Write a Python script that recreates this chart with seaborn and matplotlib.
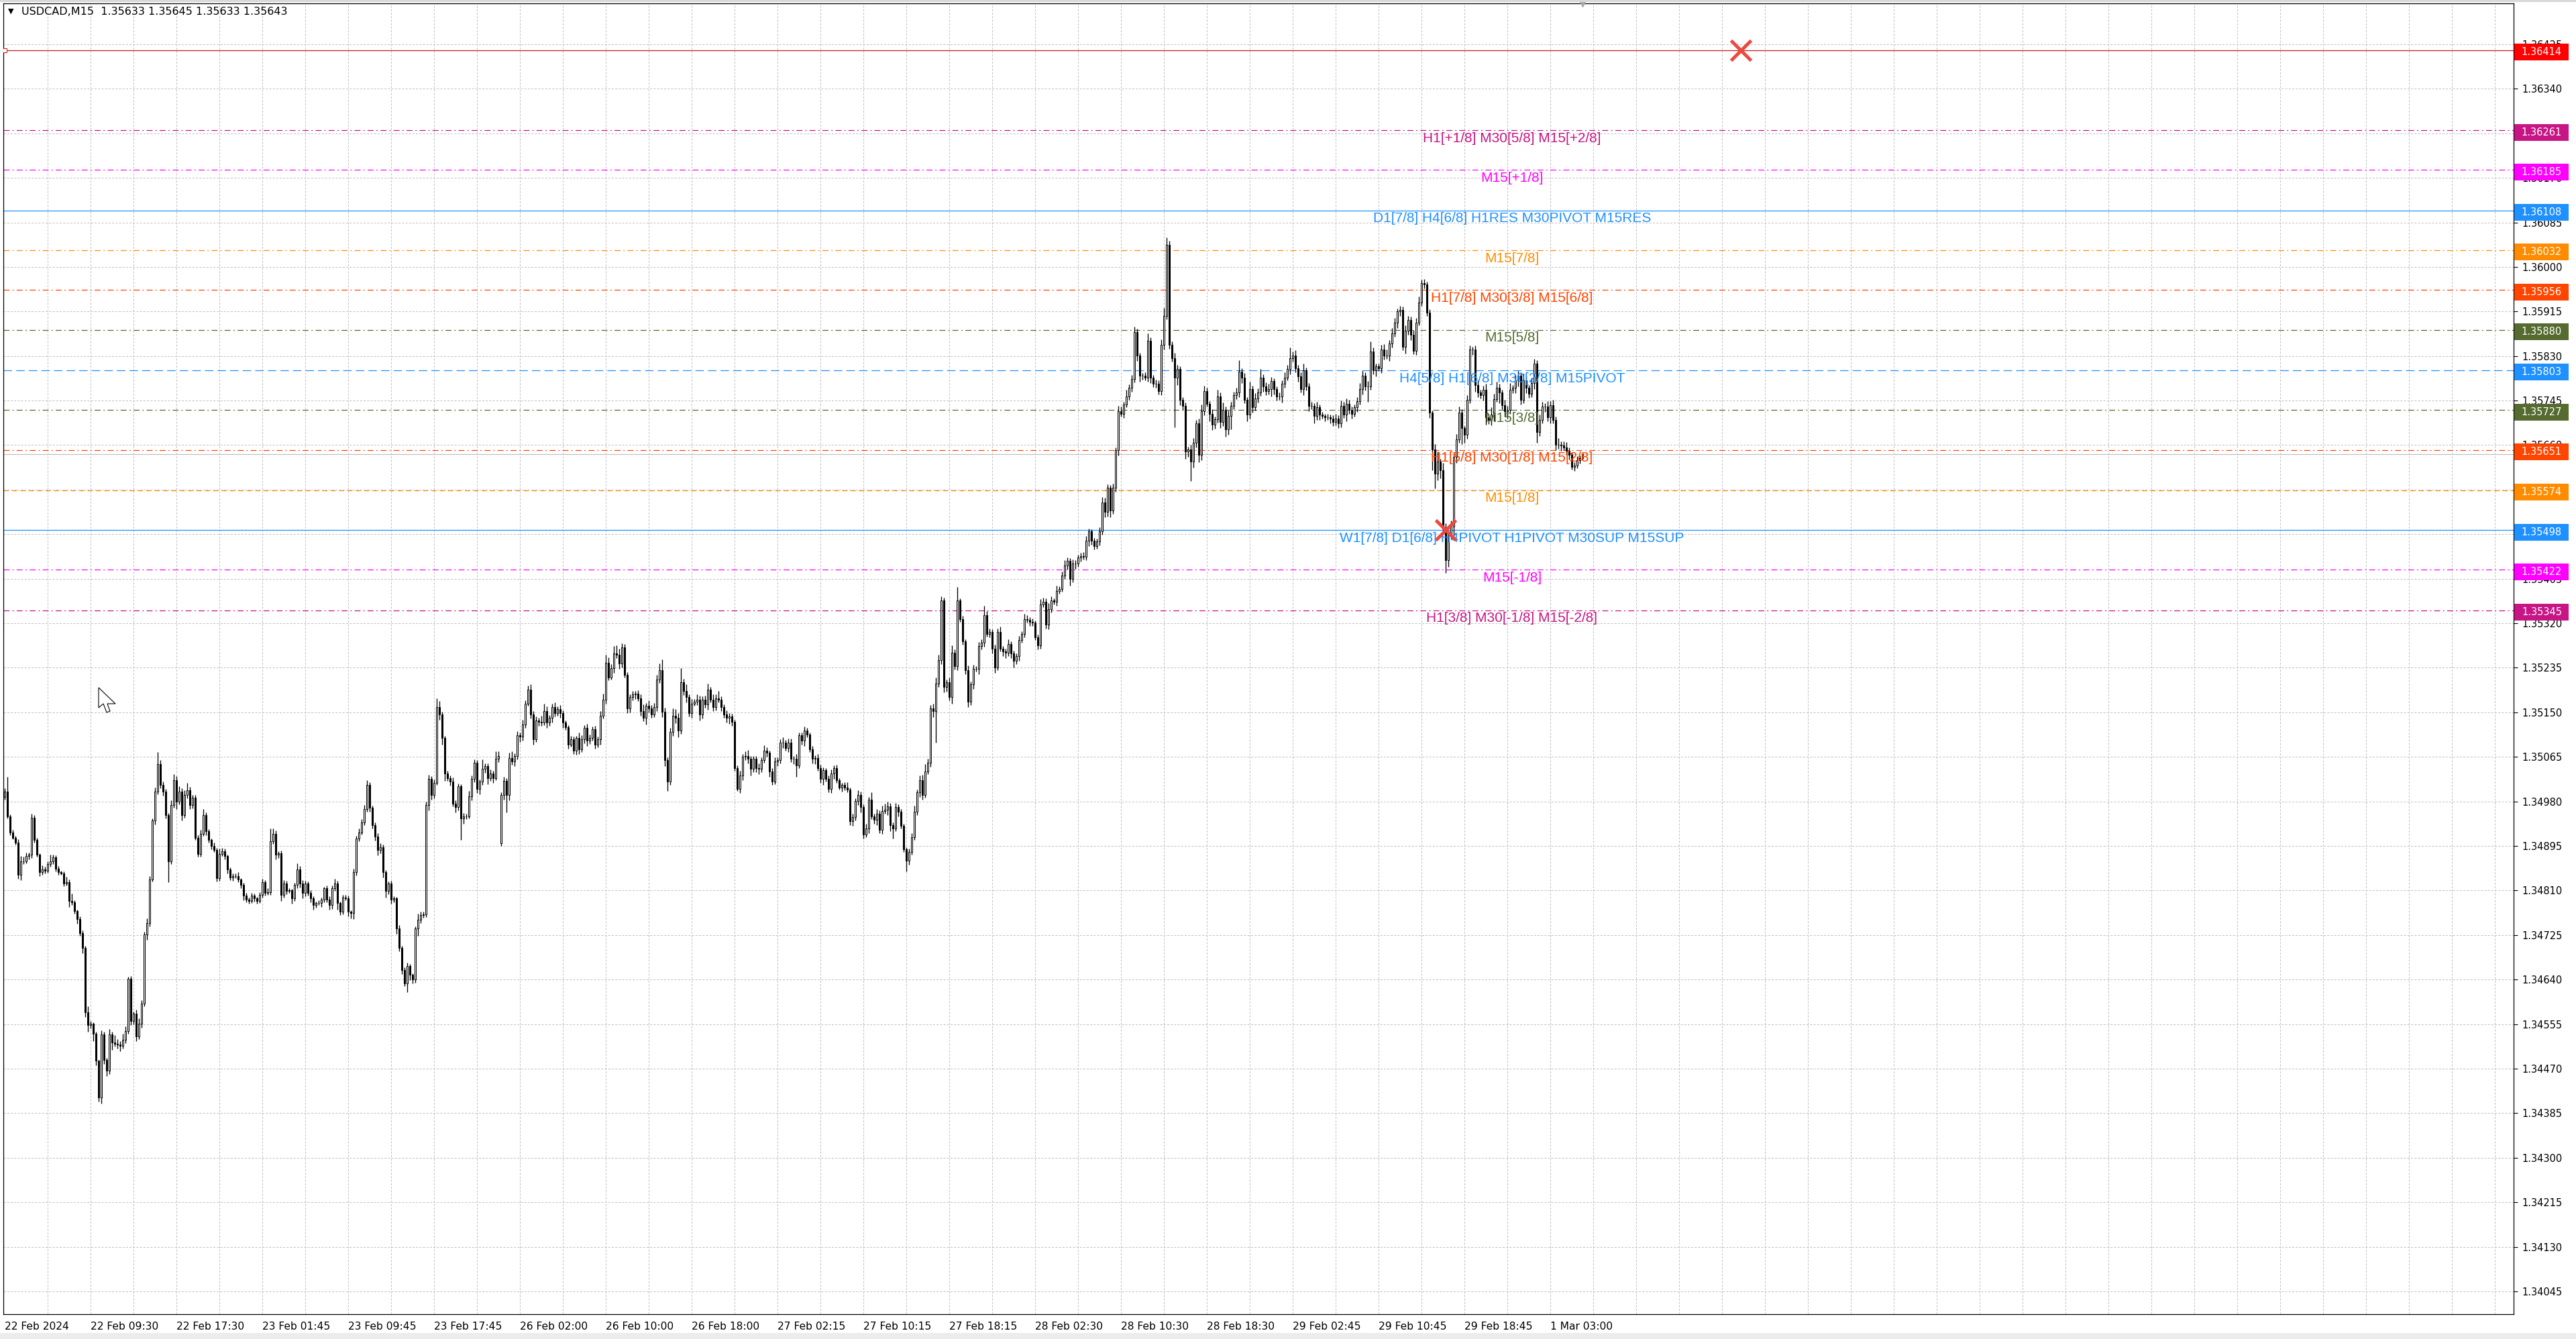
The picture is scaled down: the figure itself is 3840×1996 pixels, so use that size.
import numpy as np
import pandas as pd
import matplotlib
matplotlib.use("Agg")
import matplotlib.pyplot as plt
import matplotlib.transforms as mtransforms
from matplotlib.patches import Rectangle, Polygon
import seaborn as sns

# USDCAD M15, one value per bar from 22 Feb 2024 01:30.
# prices are stored in points (0.00001) above 1.34000
price_base = 1.34
point = 0.00001

closes = [
    999, 951, 921, 911, 902, 840, 866, 866, 876, 878,
    949, 906, 878, 845, 850, 848, 861, 866, 873, 851,
    845, 843, 824, 826, 790, 788, 771, 755, 729, 700,
    577, 553, 556, 537, 485, 415, 535, 487, 466, 535,
    520, 518, 516, 513, 525, 542, 641, 561, 575, 532,
    556, 594, 726, 748, 831, 944, 999, 1051, 1011, 999,
    954, 866, 973, 1020, 980, 999, 954, 992, 1001, 973,
    987, 911, 880, 918, 954, 923, 906, 895, 887, 833,
    880, 885, 876, 850, 835, 838, 838, 831, 821, 800,
    793, 790, 800, 795, 790, 802, 826, 805, 807, 904,
    918, 878, 881, 802, 824, 809, 810, 795, 821, 850,
    824, 805, 824, 805, 795, 783, 786, 786, 793, 814,
    793, 783, 814, 824, 786, 769, 797, 795, 769, 767,
    845, 909, 921, 940, 966, 1011, 968, 935, 913, 887,
    892, 845, 809, 824, 793, 795, 738, 700, 658, 633,
    666, 649, 640, 737, 754, 763, 765, 973, 1023, 992,
    1016, 1160, 1146, 1101, 1033, 1025, 1018, 976, 969, 1009,
    947, 952, 952, 990, 1023, 1054, 1004, 1018, 1042, 1047,
    1025, 1033, 1025, 1061, 1066, 992, 1019, 992, 1063, 1056,
    1066, 1106, 1104, 1127, 1167, 1193, 1146, 1099, 1134, 1132,
    1130, 1153, 1130, 1139, 1160, 1148, 1156, 1148, 1130, 1122,
    1089, 1099, 1077, 1101, 1080, 1099, 1120, 1096, 1101, 1118,
    1089, 1099, 1144, 1174, 1245, 1217, 1234, 1262, 1260, 1243,
    1274, 1222, 1158, 1179, 1184, 1186, 1177, 1153, 1139, 1163,
    1158, 1146, 1160, 1212, 1231, 1151, 1059, 1018, 1113, 1144,
    1139, 1115, 1208, 1191, 1179, 1148, 1167, 1170, 1174, 1146,
    1174, 1165, 1193, 1174, 1160, 1177, 1174, 1160, 1146, 1140,
    1142, 1132, 1044, 1004, 1030, 1065, 1066, 1061, 1042, 1061,
    1044, 1042, 1059, 1077, 1073, 1037, 1018, 1056, 1059, 1092,
    1092, 1082, 1092, 1061, 1061, 1049, 1106, 1096, 1115, 1108,
    1080, 1061, 1063, 1044, 1023, 1040, 1023, 1004, 1033, 1044,
    1021, 1007, 1011, 1007, 1002, 943, 950, 981, 993, 969,
    917, 929, 983, 952, 945, 957, 926, 962, 964, 971,
    935, 929, 969, 960, 933, 889, 867, 884, 912, 960,
    997, 1021, 993, 1037, 1054, 1158, 1153, 1205, 1250, 1363,
    1198, 1207, 1179, 1264, 1238, 1363, 1328, 1285, 1231, 1170,
    1203, 1233, 1233, 1276, 1283, 1335, 1299, 1304, 1271, 1236,
    1304, 1271, 1266, 1264, 1281, 1262, 1248, 1257, 1288, 1299,
    1328, 1326, 1323, 1321, 1293, 1278, 1356, 1361, 1318, 1347,
    1363, 1361, 1382, 1385, 1411, 1430, 1439, 1404, 1434, 1434,
    1446, 1448, 1447, 1477, 1495, 1478, 1467, 1476, 1495, 1551,
    1532, 1579, 1535, 1579, 1650, 1725, 1720, 1737, 1753, 1770,
    1786, 1876, 1831, 1793, 1793, 1789, 1859, 1789, 1777, 1777,
    1763, 1852, 1906, 2042, 1852, 1826, 1789, 1805, 1746, 1735,
    1648, 1652, 1629, 1664, 1702, 1641, 1725, 1763, 1739, 1720,
    1699, 1709, 1753, 1704, 1727, 1690, 1716, 1735, 1756, 1760,
    1800, 1789, 1746, 1718, 1767, 1732, 1749, 1760, 1789, 1772,
    1763, 1767, 1782, 1767, 1753, 1753, 1777, 1789, 1805, 1826,
    1831, 1807, 1791, 1767, 1803, 1772, 1735, 1735, 1716, 1732,
    1718, 1716, 1713, 1713, 1711, 1704, 1711, 1702, 1735, 1718,
    1739, 1727, 1720, 1732, 1744, 1767, 1793, 1772, 1772, 1838,
    1803, 1810, 1807, 1843, 1831, 1831, 1854, 1873, 1894, 1915,
    1918, 1847, 1878, 1899, 1870, 1840, 1894, 1932, 1969, 1967,
    1913, 1722, 1652, 1605, 1628, 1612, 1501, 1440, 1489, 1504,
    1638, 1671, 1722, 1692, 1680, 1746, 1842, 1842, 1774, 1760,
    1755, 1765, 1713, 1708, 1718, 1748, 1769, 1760, 1736, 1725,
    1727, 1765, 1769, 1784, 1793, 1746, 1784, 1769, 1758, 1779,
    1816, 1685, 1708, 1734, 1734, 1713, 1736, 1708, 1661, 1661,
    1659, 1656, 1649, 1642, 1619, 1621, 1631, 1635, 1643,
]

# opens that do not follow the previous close (first bar, Monday gap)
open_exceptions = {0: 989, 185: 900}

# wick lengths above / below the body, in points
upper_wicks = [
    6, 28, 4, 5, 3, 6, 10, 8, 6, 4,
    7, 5, 4, 3, 8, 6, 5, 12, 5, 4,
    6, 3, 4, 10, 5, 14, 4, 3, 6, 5,
    4, 12, 5, 3, 4, 2, 8, 5, 4, 10,
    6, 14, 8, 7, 12, 9, 5, 6, 4, 8,
    10, 7, 5, 9, 6, 4, 8, 23, 8, 7,
    5, 4, 9, 12, 8, 10, 6, 9, 14, 7,
    6, 5, 4, 8, 12, 5, 4, 3, 6, 4,
    10, 6, 5, 3, 4, 5, 4, 7, 3, 4,
    5, 3, 6, 4, 3, 5, 6, 4, 8, 24,
    10, 6, 4, 5, 6, 5, 4, 3, 4, 12,
    7, 6, 4, 3, 5, 4, 3, 6, 4, 3,
    5, 6, 5, 8, 4, 3, 5, 4, 5, 3,
    6, 5, 8, 6, 7, 10, 6, 4, 5, 7,
    8, 5, 4, 3, 5, 4, 3, 6, 4, 5,
    6, 4, 3, 5, 12, 6, 4, 6, 8, 5,
    6, 17, 12, 5, 4, 6, 5, 8, 6, 5,
    4, 6, 5, 10, 7, 6, 5, 4, 18, 6,
    5, 8, 6, 14, 10, 6, 8, 5, 10, 12,
    6, 8, 5, 9, 6, 8, 10, 7, 8, 6,
    12, 14, 8, 6, 7, 9, 5, 8, 6, 5,
    4, 6, 5, 4, 10, 7, 5, 8, 6, 5,
    6, 5, 8, 12, 15, 10, 8, 14, 16, 12,
    8, 6, 5, 6, 7, 5, 6, 8, 12, 5,
    10, 6, 8, 10, 12, 20, 8, 5, 8, 14,
    12, 10, 26, 6, 12, 5, 8, 6, 10, 8,
    6, 8, 12, 6, 10, 8, 14, 6, 5, 8,
    6, 5, 4, 5, 8, 6, 10, 12, 6, 5,
    6, 8, 5, 10, 6, 4, 6, 8, 5, 6,
    10, 5, 8, 8, 6, 10, 5, 6, 8, 5,
    4, 6, 5, 8, 6, 5, 4, 6, 8, 5,
    6, 4, 5, 6, 10, 4, 6, 5, 8, 6,
    5, 8, 6, 14, 5, 8, 6, 10, 12, 8,
    6, 5, 8, 6, 5, 4, 3, 6, 8, 12,
    6, 8, 10, 14, 8, 6, 8, 12, 10, 8,
    6, 5, 10, 14, 6, 26, 5, 6, 4, 8,
    6, 8, 5, 8, 6, 18, 8, 6, 5, 8,
    6, 10, 5, 6, 8, 4, 6, 5, 8, 6,
    10, 8, 5, 6, 4, 5, 10, 8, 6, 12,
    8, 5, 10, 6, 8, 10, 6, 5, 8, 6,
    5, 6, 8, 10, 6, 4, 5, 6, 8, 10,
    8, 6, 5, 8, 6, 10, 8, 6, 12, 6,
    8, 10, 6, 5, 4, 6, 14, 6, 5, 8,
    6, 10, 16, 14, 8, 6, 10, 8, 6, 5,
    6, 5, 8, 10, 6, 8, 12, 10, 6, 5,
    8, 6, 12, 8, 14, 6, 10, 8, 6, 10,
    22, 6, 8, 5, 14, 6, 10, 8, 16, 6,
    8, 10, 8, 6, 5, 8, 6, 10, 8, 20,
    8, 10, 6, 8, 12, 5, 6, 8, 5, 10,
    6, 5, 4, 6, 5, 6, 8, 6, 10, 8,
    10, 8, 6, 5, 8, 12, 8, 6, 10, 20,
    8, 6, 5, 8, 10, 12, 6, 10, 8, 6,
    8, 6, 10, 8, 6, 10, 8, 12, 6, 8,
    5, 6, 4, 10, 20, 6, 14, 10, 8, 12,
    8, 10, 12, 6, 5, 10, 8, 6, 8, 10,
    5, 8, 12, 6, 14, 10, 12, 8, 6, 10,
    8, 14, 6, 10, 8, 6, 12, 8, 6, 10,
    8, 6, 10, 8, 6, 10, 8, 10, 6, 12,
    6, 8, 10, 6, 4, 6, 8, 5, 3,
]

lower_wicks = [
    5, 4, 6, 3, 4, 8, 10, 5, 4, 6,
    6, 5, 4, 8, 5, 6, 4, 5, 6, 4,
    5, 3, 6, 5, 12, 6, 5, 8, 6, 10,
    8, 12, 6, 14, 8, 8, 12, 8, 10, 6,
    14, 6, 8, 10, 5, 6, 5, 8, 6, 10,
    6, 8, 5, 10, 6, 4, 8, 5, 6, 8,
    6, 40, 6, 5, 14, 6, 10, 5, 6, 8,
    6, 5, 6, 5, 4, 8, 5, 6, 4, 6,
    5, 4, 6, 8, 5, 6, 4, 5, 6, 8,
    6, 5, 4, 6, 5, 4, 6, 5, 4, 6,
    5, 8, 6, 12, 5, 6, 4, 10, 5, 6,
    8, 10, 6, 5, 8, 10, 6, 4, 8, 6,
    6, 10, 8, 5, 12, 6, 5, 4, 8, 10,
    12, 6, 5, 4, 5, 6, 8, 6, 8, 10,
    6, 10, 12, 6, 8, 6, 10, 6, 8, 6,
    17, 10, 8, 6, 14, 6, 5, 6, 10, 8,
    6, 5, 10, 12, 14, 6, 8, 5, 10, 6,
    40, 10, 6, 5, 8, 6, 8, 10, 6, 8,
    12, 6, 10, 5, 6, 5, 8, 33, 10, 6,
    8, 6, 10, 8, 6, 5, 8, 10, 6, 8,
    6, 5, 10, 6, 8, 6, 5, 8, 10, 6,
    8, 5, 6, 8, 10, 6, 8, 10, 6, 5,
    8, 6, 10, 6, 8, 6, 5, 8, 6, 10,
    8, 6, 10, 8, 6, 8, 5, 10, 6, 12,
    8, 6, 5, 8, 6, 10, 12, 18, 6, 8,
    10, 12, 6, 8, 10, 6, 8, 5, 6, 12,
    8, 6, 10, 5, 8, 6, 5, 8, 6, 10,
    12, 8, 6, 4, 8, 10, 6, 8, 12, 6,
    8, 10, 6, 5, 8, 10, 6, 5, 8, 6,
    10, 5, 8, 6, 10, 22, 6, 8, 10, 5,
    6, 8, 10, 6, 8, 12, 5, 6, 8, 10,
    6, 5, 8, 6, 5, 8, 10, 6, 8, 10,
    8, 5, 10, 6, 8, 10, 6, 8, 5, 10,
    12, 20, 6, 8, 5, 6, 21, 8, 6, 5,
    6, 8, 10, 6, 5, 8, 12, 61, 6, 8,
    10, 8, 6, 12, 6, 8, 5, 6, 8, 10,
    6, 8, 5, 10, 6, 8, 5, 6, 8, 10,
    6, 5, 8, 10, 6, 8, 12, 6, 8, 5,
    6, 5, 8, 6, 5, 8, 6, 5, 8, 10,
    6, 5, 8, 6, 5, 6, 8, 12, 6, 10,
    6, 8, 5, 6, 10, 8, 6, 5, 8, 6,
    10, 8, 12, 6, 8, 10, 6, 8, 5, 6,
    8, 6, 10, 12, 8, 6, 8, 10, 6, 8,
    6, 8, 10, 6, 8, 6, 95, 14, 10, 8,
    14, 10, 38, 12, 8, 14, 10, 8, 6, 14,
    10, 8, 6, 12, 8, 14, 10, 26, 6, 8,
    8, 10, 6, 12, 8, 10, 6, 8, 6, 10,
    8, 6, 14, 10, 8, 6, 12, 8, 5, 10,
    6, 8, 10, 6, 12, 8, 10, 6, 14, 8,
    10, 6, 8, 5, 10, 8, 6, 10, 8, 6,
    12, 8, 10, 6, 8, 6, 10, 8, 30, 6,
    8, 12, 6, 10, 8, 6, 10, 8, 6, 10,
    8, 6, 12, 8, 10, 6, 8, 5, 6, 8,
    6, 10, 40, 28, 12, 16, 10, 24, 12, 8,
    20, 12, 6, 30, 16, 8, 6, 10, 12, 8,
    6, 10, 14, 8, 10, 12, 6, 20, 8, 10,
    14, 8, 6, 10, 12, 8, 6, 10, 8, 6,
    12, 20, 8, 6, 10, 8, 12, 6, 10, 8,
    10, 6, 8, 10, 6, 8, 5, 6, 4,
]

# x axis labels, one every 32 bars
time_labels = [
    "22 Feb 2024", "22 Feb 09:30", "22 Feb 17:30", "23 Feb 01:45",
    "23 Feb 09:45", "23 Feb 17:45", "26 Feb 02:00", "26 Feb 10:00",
    "26 Feb 18:00", "27 Feb 02:15", "27 Feb 10:15", "27 Feb 18:15",
    "28 Feb 02:30", "28 Feb 10:30", "28 Feb 18:30", "29 Feb 02:45",
    "29 Feb 10:45", "29 Feb 18:45", "1 Mar 03:00",
]

# price scale
price_ticks = [
    1.34045, 1.34130, 1.34215, 1.34300, 1.34385, 1.34470, 1.34555, 1.34640,
    1.34725, 1.34810, 1.34895, 1.34980, 1.35065, 1.35150, 1.35235, 1.35320,
    1.35405, 1.35490, 1.35575, 1.35660, 1.35745, 1.35830, 1.35915, 1.36000,
    1.36085, 1.36170, 1.36255, 1.36340, 1.36425,
]

# murrey / pivot levels
level_values = [
    1.36261, 1.36185, 1.36108, 1.36032, 1.35956, 1.35880, 1.35803,
    1.35727, 1.35651, 1.35574, 1.35498, 1.35422, 1.35345,
]
level_names = [
    "H1[+1/8] M30[5/8] M15[+2/8]",
    "M15[+1/8]",
    "D1[7/8] H4[6/8] H1RES M30PIVOT M15RES",
    "M15[7/8]",
    "H1[7/8] M30[3/8] M15[6/8]",
    "M15[5/8]",
    "H4[5/8] H1[6/8] M30[2/8] M15PIVOT",
    "M15[3/8]",
    "H1[5/8] M30[1/8] M15[2/8]",
    "M15[1/8]",
    "W1[7/8] D1[6/8] H4PIVOT H1PIVOT M30SUP M15SUP",
    "M15[-1/8]",
    "H1[3/8] M30[-1/8] M15[-2/8]",
]

stop_level = 1.36414
bid_price = 1.35643
title_text = "USDCAD,M15  1.35633 1.35645 1.35633 1.35643"
cross_marks = [(647, 1.36414), (537, 1.35498)]

# styles
level_colors = [
    "#C71585", "#FF00FF", "#1E90FF", "#FF8C00", "#FF4500", "#556B2F", "#1E90FF",
    "#556B2F", "#FF4500", "#FF8C00", "#1E90FF", "#FF00FF", "#C71585",
]
dashdot = (0, (7, 3.5, 1.5, 3.5))
level_styles = [
    dashdot, dashdot, "-", dashdot, dashdot, dashdot, (0, (10, 5)),
    dashdot, dashdot, (0, (6, 4)), "-", dashdot, dashdot,
]

W, H = 3840, 1996
sns.set_style("white")
plt.rcParams["font.family"] = ["DejaVu Sans"]

n = min(len(closes), len(upper_wicks), len(lower_wicks))
df = pd.DataFrame({"close": np.array(closes[:n]) * point + price_base})
df["open"] = df["close"].shift(1)
for i, v in open_exceptions.items():
    df.loc[i, "open"] = price_base + v * point
df["high"] = df[["open", "close"]].max(axis=1) + np.array(upper_wicks[:n]) * point
df["low"] = df[["open", "close"]].min(axis=1) - np.array(lower_wicks[:n]) * point
df["bar"] = np.arange(n)

fig = plt.figure(figsize=(W / 100, H / 100), dpi=100)
fig.patch.set_facecolor("white")
ax = fig.add_axes([5 / W, 37 / H, 3742 / W, 1954 / H])
ax.set_facecolor("white")

xmax = 935
ax.set_xlim(-0.5, xmax)
ax.set_ylim(1.340015, 1.36503)
px_per_price = 78109

# grid
grid_kw = dict(color="#c4c4c4", lw=0.75, ls=(0, (3, 2)), zorder=0)
for b in range(16, xmax, 16):
    ax.axvline(b, **grid_kw)
for t in price_ticks:
    ax.axhline(t, **grid_kw)

# levels
ax.axhline(bid_price, color="#c0c0c0", lw=0.9, zorder=1)
ax.axhline(stop_level, color="#c81e1e", lw=0.9, zorder=1)
for v, c, s in zip(level_values, level_colors, level_styles):
    ax.axhline(v, color=c, lw=0.9, ls=s, zorder=1)

# candles
bull = df[df["close"] >= df["open"]]
bear = df[df["close"] < df["open"]]
ax.vlines(df["bar"], df["low"], df["high"], color="black", lw=0.95, zorder=2)
ax.bar(bear["bar"], bear["open"] - bear["close"], bottom=bear["close"], width=0.7,
       color="black", edgecolor="black", lw=0.75, zorder=3)
ax.bar(bull["bar"], bull["close"] - bull["open"], bottom=bull["open"], width=0.7,
       color="white", edgecolor="black", lw=0.75, zorder=3)

# level captions
for v, name, c in zip(level_values, level_names, level_colors):
    ax.annotate(name, (561.75, v), xytext=(0, -2), textcoords="offset points",
                ha="center", va="top", fontsize=15, color=c,
                family=["Liberation Sans", "DejaVu Sans"], zorder=4)

# marks
for bx, by in cross_marks:
    ax.plot(bx, by, marker="x", ms=21, mew=3.6, color="#ea4a40", zorder=7,
            clip_on=False)
ax.plot(0, stop_level, marker="s", ms=4, mfc="white", mec="#c81e1e", mew=0.8,
        zorder=5)
top_tr = mtransforms.blended_transform_factory(ax.transData, ax.transAxes)
ax.plot(588, 1.0, marker="v", ms=7, color="#a8a8a8", transform=top_tr,
        clip_on=False, zorder=8)

# axes
for sp in ax.spines.values():
    sp.set_color("black")
    sp.set_linewidth(0.9)
ax.yaxis.tick_right()
ax.set_yticks(price_ticks)
ax.set_yticklabels([f"{t:.5f}" for t in price_ticks])
ax.tick_params(axis="y", direction="out", length=4, width=0.8, labelsize=10.5,
               pad=5, colors="black")
ax.set_xticks(range(0, 32 * len(time_labels), 32))
ax.set_xticklabels(time_labels, ha="left")
ax.tick_params(axis="x", direction="out", length=5, width=0.8, labelsize=11.2,
               pad=3, colors="black")
ax.set_xlabel("")
ax.set_ylabel("")

# price boxes on the scale (slightly below their line, as in the terminal)
box_tr = mtransforms.blended_transform_factory(ax.transAxes, ax.transData)
box_h = 25 / px_per_price
box_w = 81 / 3742
box_shift = 3 / px_per_price
for v, c in [(stop_level, "#FF0000")] + list(zip(level_values, level_colors)):
    ax.add_patch(Rectangle((1.0004, v - box_shift - box_h / 2), box_w, box_h,
                           transform=box_tr, facecolor=c, edgecolor="none",
                           clip_on=False, zorder=9))
    ax.text(1.0004 + box_w / 2, v - box_shift, f"{v:.5f}", transform=box_tr,
            ha="center", va="center", color="white", fontsize=10.5,
            clip_on=False, zorder=10)

# title
fig.text(12 / W, 1 - 17 / H, "\u25bc", fontsize=8, va="center", ha="left",
         color="black")
fig.text(32 / W, 1 - 17 / H, title_text, fontsize=11.5, va="center", ha="left",
         color="black")

# mouse pointer left on the chart
tip_x, tip_y = 147, 1025
pointer = [(0, 0), (0, 30), (7, 24), (12, 37), (17, 35), (13, 24), (25, 24)]
fig.patches.append(Polygon([((tip_x + dx) / W, 1 - (tip_y + dy) / H) for dx, dy in pointer],
                           closed=True, transform=fig.transFigure, facecolor="white",
                           edgecolor="black", lw=0.8, zorder=20))

# window frame
fig.patches.append(Rectangle((0, 1 - 3 / H), 1, 3 / H, transform=fig.transFigure,
                             facecolor="#d8d8d8", edgecolor="none"))
fig.patches.append(Rectangle((0, 0), 1, 9 / H, transform=fig.transFigure,
                             facecolor="#ececec", edgecolor="none"))

fig.savefig("out.png", dpi=100, facecolor="white")
plt.close(fig)
